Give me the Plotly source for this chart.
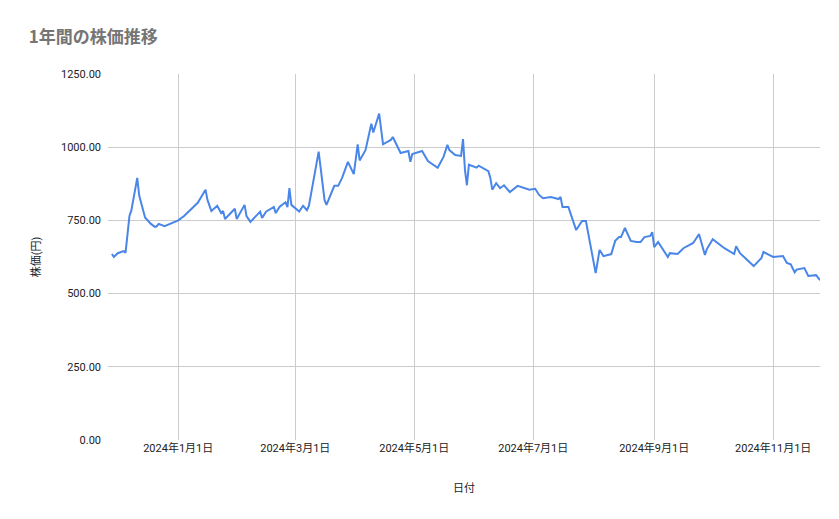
import plotly.graph_objects as go

dates = [
    "2023-11-28", "2023-11-29", "2023-12-01", "2023-12-04", "2023-12-05", "2023-12-07", "2023-12-08",
    "2023-12-11", "2023-12-12", "2023-12-13", "2023-12-15", "2023-12-18", "2023-12-20", "2023-12-21",
    "2023-12-22", "2023-12-25", "2024-01-01", "2024-01-04", "2024-01-07", "2024-01-08", "2024-01-09",
    "2024-01-11", "2024-01-15", "2024-01-16", "2024-01-18", "2024-01-21", "2024-01-23", "2024-01-24",
    "2024-01-25", "2024-01-30", "2024-01-31", "2024-02-04", "2024-02-05", "2024-02-07", "2024-02-12",
    "2024-02-13", "2024-02-15", "2024-02-19", "2024-02-20", "2024-02-22", "2024-02-25", "2024-02-26",
    "2024-02-27", "2024-02-28", "2024-03-03", "2024-03-05", "2024-03-07", "2024-03-08", "2024-03-13",
    "2024-03-16", "2024-03-17", "2024-03-21", "2024-03-23", "2024-03-25", "2024-03-28", "2024-03-31",
    "2024-04-02", "2024-04-03", "2024-04-06", "2024-04-09", "2024-04-10", "2024-04-13", "2024-04-15",
    "2024-04-19", "2024-04-20", "2024-04-22", "2024-04-24", "2024-04-28", "2024-04-29", "2024-04-30",
    "2024-05-05", "2024-05-08", "2024-05-13", "2024-05-16", "2024-05-18", "2024-05-19", "2024-05-22",
    "2024-05-25", "2024-05-26", "2024-05-27", "2024-05-28", "2024-05-29", "2024-06-02", "2024-06-03",
    "2024-06-08", "2024-06-09", "2024-06-10", "2024-06-12", "2024-06-14", "2024-06-16", "2024-06-19",
    "2024-06-23", "2024-06-29", "2024-07-02", "2024-07-04", "2024-07-06", "2024-07-10", "2024-07-14",
    "2024-07-15", "2024-07-16", "2024-07-19", "2024-07-23", "2024-07-26", "2024-07-28", "2024-08-02",
    "2024-08-04", "2024-08-06", "2024-08-10", "2024-08-12", "2024-08-14", "2024-08-15", "2024-08-17",
    "2024-08-20", "2024-08-23", "2024-08-25", "2024-08-27", "2024-08-30", "2024-08-31", "2024-09-01",
    "2024-09-03", "2024-09-06", "2024-09-08", "2024-09-09", "2024-09-13", "2024-09-16", "2024-09-21",
    "2024-09-22", "2024-09-24", "2024-09-27", "2024-09-28", "2024-10-01", "2024-10-07", "2024-10-12",
    "2024-10-13", "2024-10-15", "2024-10-22", "2024-10-26", "2024-10-27", "2024-11-01", "2024-11-06",
    "2024-11-08", "2024-11-10", "2024-11-12", "2024-11-13", "2024-11-17", "2024-11-19", "2024-11-23",
    "2024-11-25",
]
prices = [
    635, 625, 638, 645, 640, 765, 785,
    895, 835, 810, 760, 738, 728, 730,
    738, 730, 750, 765, 785, 790, 800,
    810, 855, 820, 782, 800, 775, 782,
    755, 790, 755, 803, 765, 745, 780,
    758, 780, 796, 775, 797, 812, 795,
    860, 803, 780, 800, 785, 800, 985,
    820, 803, 868, 868, 895, 950, 908,
    1010, 955, 990, 1080, 1050, 1115, 1010,
    1025, 1035, 1008, 980, 987, 950, 977,
    987, 953, 930, 967, 1008, 990, 973,
    970, 1028, 922, 870, 940, 930, 937,
    918, 895, 855, 877, 860, 870, 847,
    868, 855, 858, 837, 826, 830, 823,
    830, 796, 796, 717, 748, 748, 570,
    649, 628, 635, 680, 693, 693, 724,
    680, 676, 676, 693, 697, 710, 659,
    676, 645, 625, 638, 635, 655, 673,
    683, 703, 632, 652, 686, 655, 635,
    662, 638, 594, 622, 642, 625, 628,
    605, 600, 573, 582, 587, 560, 563,
    546,
]

fig = go.Figure(go.Scatter(
    x=dates, y=prices, mode="lines",
    line=dict(color="#4a86e8", width=2),
))

# the page adds an 8px body margin, so the margins are offset by that
fig.update_layout(
    width=831, height=511,
    font=dict(family="Roboto, Noto Sans CJK JP", size=11, color="#222222"),
    title=dict(text="<b>1年間の株価推移</b>", x=0.025, y=0.955,
               font=dict(size=17, color="#757575", family="Noto Sans CJK JP")),
    margin=dict(l=100, r=19, t=66, b=79),
    paper_bgcolor="white", plot_bgcolor="white",
    showlegend=False,
)
fig.update_xaxes(
    range=["2023-11-26", "2024-11-25"],
    tickvals=["2024-01-01", "2024-03-01", "2024-05-01", "2024-07-01", "2024-09-01", "2024-11-01"],
    tickformat="%Y年%-m月%-d日",
    showgrid=True, gridcolor="#cccccc", zeroline=False,
    title=dict(text="日付", font=dict(size=11), standoff=30),
    showline=False, automargin=False,
)
fig.update_yaxes(
    range=[0, 1250], dtick=250, tickformat=".2f",
    showgrid=True, gridcolor="#cccccc", zeroline=False,
    title=dict(text="株価(円)", font=dict(size=11), standoff=18),
    ticklabelstandoff=6, automargin=False,
)

fig.write_html("out.html")
